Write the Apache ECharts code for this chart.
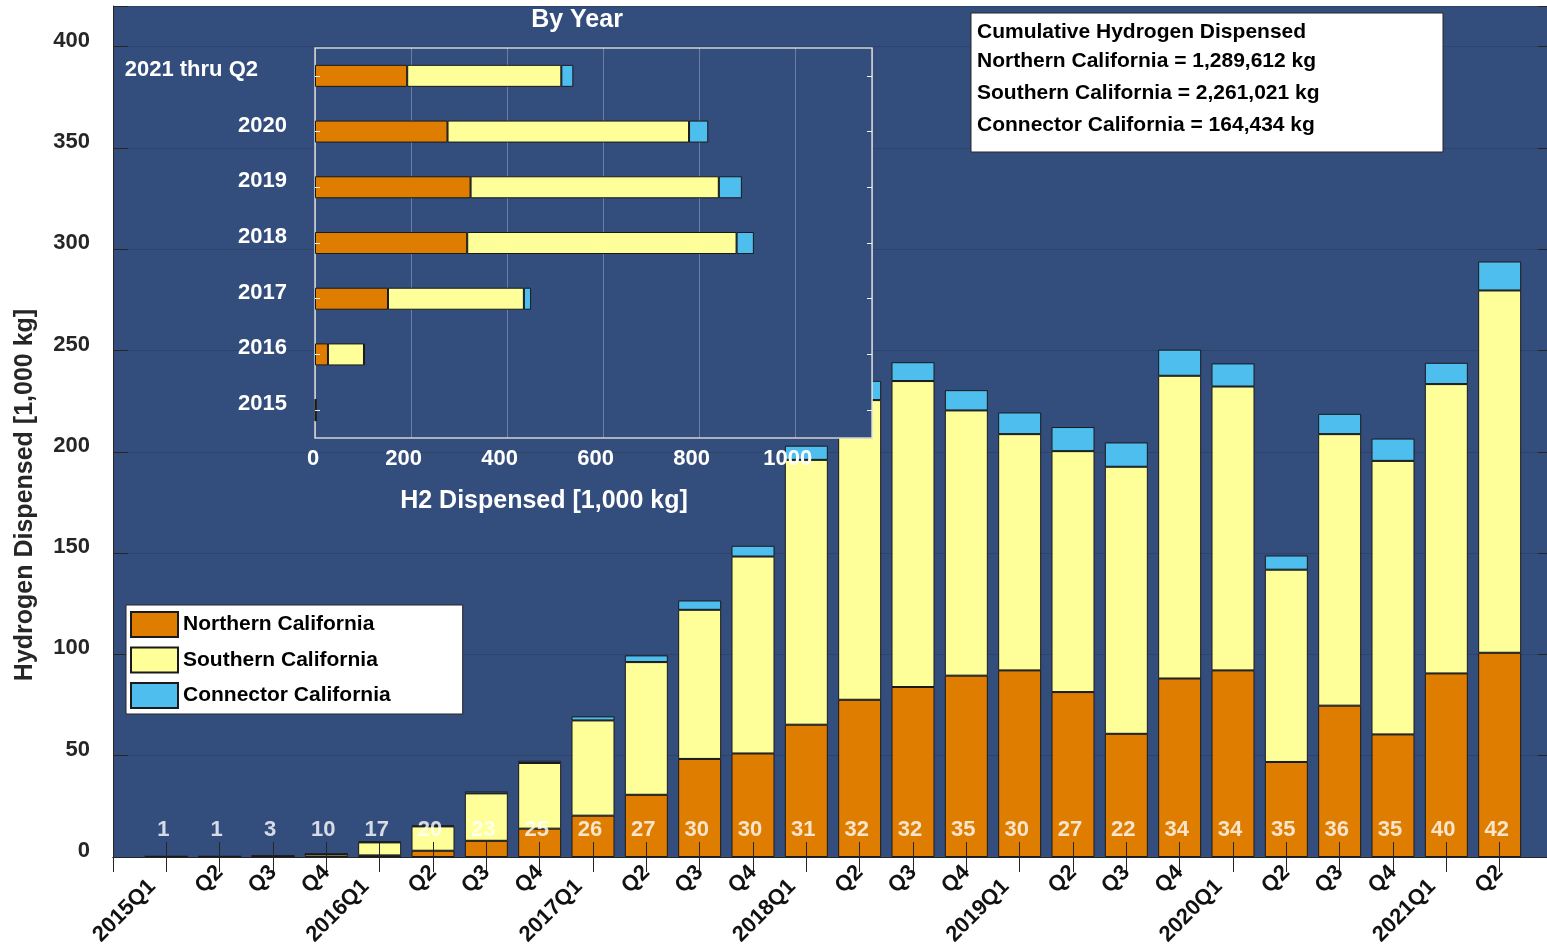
<!DOCTYPE html>
<html>
<head>
<meta charset="utf-8">
<script src="https://cdn.jsdelivr.net/npm/echarts@6/dist/echarts.min.js"></script>
<style>
  html, body { margin: 0; padding: 0; background: #fff; overflow: hidden; }
  /* slightly wider than the window: the right edge of the axes is cut off, as in the original */
  #main { width: 1553px; height: 950px; }
</style>
</head>
<body>
<div id="main"></div>
<script>
// quarterly data, 1,000 kg
var quarters = ['2015Q1', 'Q2', 'Q3', 'Q4', '2016Q1', 'Q2', 'Q3', 'Q4', '2017Q1', 'Q2', 'Q3', 'Q4',
    '2018Q1', 'Q2', 'Q3', 'Q4', '2019Q1', 'Q2', 'Q3', 'Q4', '2020Q1', 'Q2', 'Q3', 'Q4', '2021Q1', 'Q2'];
var stations = [1, 1, 3, 10, 17, 20, 23, 25, 26, 27, 30, 30, 31, 32, 32, 35, 30, 27, 22, 34, 34, 35, 36, 35, 40, 42];
var northern = [0.1, 0.1, 0.2, 0.3, 0.8, 3.1, 8.0, 14.0, 20.4, 30.7, 48.4, 51.1,
    65.3, 77.6, 83.9, 89.5, 92.1, 81.4, 60.8, 88.1, 92.1, 46.9, 74.7, 60.5, 90.6, 100.8];
var southern = [0.2, 0.2, 0.3, 1.2, 6.4, 12.0, 23.4, 32.4, 47.0, 65.5, 73.6, 97.2,
    130.7, 147.9, 151.0, 130.9, 116.6, 118.9, 131.8, 149.4, 140.1, 94.9, 134.0, 135.0, 142.8, 178.8];
var connector = [0, 0, 0, 0, 0.5, 0.5, 1.0, 1.1, 2.0, 3.3, 4.6, 5.3,
    7.0, 9.5, 9.3, 10.0, 10.7, 11.9, 12.0, 12.9, 11.4, 7.0, 10.0, 11.0, 10.5, 14.3];

// inset: by year
var years = ['2015', '2016', '2017', '2018', '2019', '2020', '2021 thru Q2'];
var yearNorthern = [0.5, 27, 152, 317, 324, 276, 192];
var yearSouthern = [1.5, 75, 283, 561, 517, 503, 321];
var yearConnector = [0, 2, 15, 36, 48, 40, 25];

var FONT = '"Liberation Sans", Arial, Helvetica, sans-serif';
var DARK = '#262626';
var BG = '#334D7D';
var COLORS = { n: '#DE7D00', s: '#FFFF99', c: '#4DBEEE' };

// empty slot on both ends, like the original axis limits
var xCats = [''].concat(quarters, [' ']);
function padded(arr) { return [null].concat(arr, [null]); }

var myChart = echarts.init(document.getElementById('main'));

function mainBar(name, data, color) {
    return {
        name: name, type: 'bar', stack: 'q', xAxisIndex: 0, yAxisIndex: 0,
        data: padded(data), barWidth: 43, z: 2,
        itemStyle: { color: color, borderColor: '#1a1a1a', borderWidth: 1 }
    };
}
function yearBar(name, data, color) {
    return {
        name: name, type: 'bar', stack: 'y', xAxisIndex: 2, yAxisIndex: 2,
        data: data, barWidth: 22, z: 6,
        itemStyle: { color: color, borderColor: '#1a1a1a', borderWidth: 1 }
    };
}
function boldText(size, color, extra) {
    var s = { fontSize: size, fontWeight: 'bold', color: color, fontFamily: FONT };
    for (var k in extra) s[k] = extra[k];
    return s;
}

var labelData = stations.map(function (s, i) {
    return { value: [i + 1, 13.2], label: { formatter: String(s) } };
});

var option = {
    animation: false,
    textStyle: { fontFamily: FONT },
    grid: [
        { left: 113, top: 6, right: 0, bottom: 93, outerBoundsMode: 'none', containLabel: false,
          show: true, backgroundColor: BG, borderWidth: 0, z: 0 },
        { left: 315, top: 48, width: 557, height: 390, outerBoundsMode: 'none', containLabel: false,
          show: true, backgroundColor: BG, borderColor: '#d4d4d4', borderWidth: 1.5, z: 4 }
    ],
    legend: {
        data: ['Northern California', 'Southern California', 'Connector California'],
        orient: 'vertical', left: 126, top: 605, z: 10,
        itemWidth: 47, itemHeight: 25, itemGap: 8.5, icon: 'rect',
        padding: [6, 72, 5, 4],
        backgroundColor: '#fff', borderColor: DARK, borderWidth: 1,
        textStyle: boldText(21, '#000', {})
    },
    xAxis: [
        {
            type: 'category', gridIndex: 0, data: xCats, boundaryGap: false, z: 3,
            axisLine: { lineStyle: { color: DARK, width: 1 } },
            axisTick: { inside: true, length: 15, interval: 0, lineStyle: { color: DARK } },
            axisLabel: boldText(22, '#111', {
                interval: 0, rotate: 45, margin: 12,
                formatter: function (v) { return /^\d{4}/.test(v) ? '{y|' + v + '}' : v; },
                rich: { y: boldText(22, '#111', { padding: [0, 20, 0, 0] }) }
            }),
            splitLine: { show: false }
        },
        {
            type: 'category', gridIndex: 0, data: xCats, boundaryGap: false, position: 'top', z: 3,
            axisLine: { lineStyle: { color: DARK, width: 1 } },
            axisTick: { inside: true, length: 15, interval: 0, lineStyle: { color: DARK } },
            axisLabel: { show: false }, splitLine: { show: false }
        },
        {
            type: 'value', gridIndex: 1, min: 0, max: 1160, interval: 200, z: 5,
            axisLine: { show: false },
            axisTick: { inside: true, length: 5, lineStyle: { color: '#e0e0e0' } },
            axisLabel: boldText(22, '#fff', {
                margin: 10,
                formatter: function (v) {
                    if (v > 1000) return '';
                    return v === 0 ? '{z|0}' : '{n|' + v + '}';
                },
                rich: {
                    z: boldText(22, '#fff', { padding: [0, 4, 0, 0] }),
                    n: boldText(22, '#fff', { padding: [0, 15, 0, 0] })
                }
            }),
            splitLine: { show: true, lineStyle: { color: 'rgba(255,255,255,0.28)', width: 1 } }
        }
    ],
    yAxis: [
        {
            type: 'value', gridIndex: 0, min: 0, max: 420, interval: 50, z: 1,
            axisLine: { show: true, lineStyle: { color: DARK, width: 1 } },
            axisTick: { show: true, inside: true, length: 15, lineStyle: { color: DARK } },
            axisLabel: boldText(22, DARK, {
                margin: 23,
                formatter: function (v) { return v > 400 ? '' : '{a|' + v + '}'; },
                rich: { a: boldText(22, DARK, { padding: [0, 0, 12, 0] }) }
            }),
            splitLine: { show: true, lineStyle: { color: 'rgba(0,0,0,0.13)', width: 1 } }
        },
        {
            type: 'value', gridIndex: 0, min: 0, max: 420, interval: 50, position: 'right', z: 1,
            axisLine: { show: true, lineStyle: { color: DARK } },
            axisTick: { show: true, inside: true, length: 15, lineStyle: { color: DARK } },
            axisLabel: { show: false }, splitLine: { show: false }
        },
        {
            type: 'category', gridIndex: 1, data: years, z: 7,
            axisLine: { show: false },
            axisTick: { show: true, inside: true, length: 5, alignWithLabel: true, lineStyle: { color: '#f0f0f0' } },
            axisLabel: boldText(22, '#fff', {
                margin: 28,
                formatter: function (v) { return v.length > 4 ? '{t|' + v + '}' : '{a|' + v + '}'; },
                rich: {
                    t: boldText(22, '#fff', { padding: [0, 29, 12, 0] }),
                    a: boldText(22, '#fff', { padding: [0, 0, 12, 0] })
                }
            }),
            splitLine: { show: false }
        },
        {
            type: 'category', gridIndex: 1, data: years, position: 'right', z: 7,
            axisLine: { show: false },
            axisTick: { show: true, inside: true, length: 5, alignWithLabel: true, lineStyle: { color: '#f0f0f0' } },
            axisLabel: { show: false }, splitLine: { show: false }
        }
    ],
    series: [
        mainBar('Northern California', northern, COLORS.n),
        mainBar('Southern California', southern, COLORS.s),
        mainBar('Connector California', connector, COLORS.c),
        {
            name: 'stations', type: 'scatter', xAxisIndex: 0, yAxisIndex: 0, z: 3,
            symbolSize: 1, itemStyle: { color: 'rgba(0,0,0,0)' },
            label: boldText(22, '#ffffff', {
                show: true, position: 'inside', offset: [-3, 0], textBorderWidth: 0
            }),
            data: labelData
        },
        yearBar('Northern California', yearNorthern, COLORS.n),
        yearBar('Southern California', yearSouthern, COLORS.s),
        yearBar('Connector California', yearConnector, COLORS.c)
    ],
    graphic: [
        {
            type: 'text', x: 25, y: 495, rotation: Math.PI / 2, z: 10,
            style: { text: 'Hydrogen Dispensed [1,000 kg]', fontSize: 25, fontWeight: 'bold', fontFamily: FONT,
                     fill: DARK, align: 'center', verticalAlign: 'middle' }
        },
        {
            type: 'text', x: 577, y: 20, z: 10,
            style: { text: 'By Year', fontSize: 25, fontWeight: 'bold', fontFamily: FONT,
                     fill: '#fff', align: 'center', verticalAlign: 'middle' }
        },
        {
            type: 'text', x: 544, y: 501, z: 10,
            style: { text: 'H2 Dispensed [1,000 kg]', fontSize: 25, fontWeight: 'bold', fontFamily: FONT,
                     fill: '#fff', align: 'center', verticalAlign: 'middle' }
        },
        {
            type: 'group', z: 10,
            children: [
                { type: 'rect', z: 10, shape: { x: 971, y: 13, width: 472, height: 139 }, style: { fill: '#fff', stroke: DARK, lineWidth: 1 } },
                { type: 'text', z: 11, x: 977, y: 32.5, style: { text: 'Cumulative Hydrogen Dispensed', fontSize: 21, fontWeight: 'bold', fontFamily: FONT, fill: '#000', verticalAlign: 'middle' } },
                { type: 'text', z: 11, x: 977, y: 61, style: { text: 'Northern California = 1,289,612 kg', fontSize: 21, fontWeight: 'bold', fontFamily: FONT, fill: '#000', verticalAlign: 'middle' } },
                { type: 'text', z: 11, x: 977, y: 93, style: { text: 'Southern California = 2,261,021 kg', fontSize: 21, fontWeight: 'bold', fontFamily: FONT, fill: '#000', verticalAlign: 'middle' } },
                { type: 'text', z: 11, x: 977, y: 125, style: { text: 'Connector California = 164,434 kg', fontSize: 21, fontWeight: 'bold', fontFamily: FONT, fill: '#000', verticalAlign: 'middle' } }
            ]
        }
    ]
};

myChart.setOption(option);
</script>
</body>
</html>
